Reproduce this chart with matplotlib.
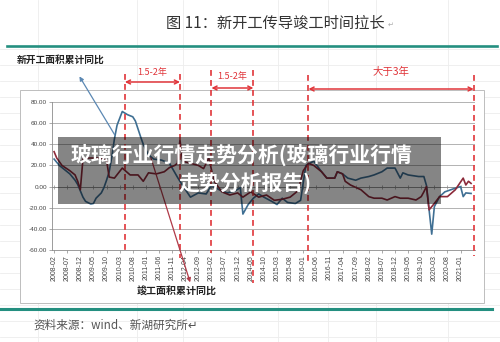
import matplotlib.pyplot as plt
from matplotlib.patches import Rectangle
from matplotlib.lines import Line2D
from matplotlib.transforms import blended_transform_factory

plt.rcParams['font.family'] = ['Noto Sans CJK SC', 'DejaVu Sans']

# 新开工面积累计同比 (%)
new_start_dates = ["2008-02", "2008-04", "2008-06", "2008-08", "2008-10", "2008-11", "2008-12",
                   "2009-01", "2009-02", "2009-04", "2009-05", "2009-06", "2009-08", "2009-09", "2009-10", "2009-11", "2009-12",
                   "2010-01", "2010-02", "2010-04", "2010-06", "2010-08", "2010-09", "2010-11", "2010-12",
                   "2011-02", "2011-04", "2011-07", "2011-10",
                   "2012-01", "2012-03", "2012-06", "2012-09", "2012-12",
                   "2013-02", "2013-05", "2013-08", "2013-11",
                   "2014-01", "2014-02", "2014-04", "2014-06", "2014-08", "2014-10",
                   "2015-01", "2015-03", "2015-05", "2015-07", "2015-10", "2015-12",
                   "2016-02", "2016-05", "2016-08", "2016-10",
                   "2017-01", "2017-02", "2017-04", "2017-06", "2017-09", "2017-11",
                   "2018-02", "2018-04", "2018-07", "2018-09", "2018-12",
                   "2019-02", "2019-03", "2019-05", "2019-09", "2019-11", "2019-12",
                   "2020-02", "2020-03", "2020-05", "2020-07", "2020-11",
                   "2021-01", "2021-02", "2021-03", "2021-05"]
new_start_yoy = [26, 20, 16, 12, 6, 2, -4,
                 -10, -14, -16.5, -16, -11, -6, -1, 6, 14, 28,
                 45, 58, 71, 68, 66, 62, 47, 40,
                 30, 26, 25, 22,
                 9, 1, -10, -6, -7,
                 1, -3, -6, -4,
                 -1, -26, -17, -11, -7, -10,
                 -14, -17, -11, -15, -16, -13,
                 20, 24, 14, 8,
                 8, 14, 12, 8, 6, 8,
                 9.5, 11, 14, 17.5, 17.5,
                 8, 13, 11, 9.5, 9.5, 1,
                 -45, -19, -9.5, -5, -1.5,
                 0, -9.5, -6, -6.5]

# 竣工面积累计同比 (%)
completion_dates = ["2008-02", "2008-03", "2008-05", "2008-08", "2008-10", "2008-11", "2008-12",
                    "2009-01", "2009-03", "2009-07", "2009-10", "2009-11",
                    "2010-01", "2010-04", "2010-07", "2010-10", "2010-12",
                    "2011-02", "2011-05", "2011-08", "2011-10", "2011-12",
                    "2012-01", "2012-02", "2012-03", "2012-06", "2012-09", "2012-11",
                    "2013-01", "2013-03", "2013-06", "2013-09", "2013-12",
                    "2014-02", "2014-05", "2014-08", "2014-11",
                    "2015-02", "2015-05", "2015-08", "2015-11",
                    "2016-01", "2016-03", "2016-05", "2016-08", "2016-10",
                    "2017-01", "2017-02", "2017-04", "2017-05", "2017-07", "2017-11",
                    "2018-02", "2018-04", "2018-07", "2018-09", "2018-12",
                    "2019-02", "2019-05", "2019-08", "2019-10", "2019-11", "2019-12",
                    "2020-01", "2020-03", "2020-05", "2020-08", "2020-11",
                    "2021-02", "2021-03", "2021-04", "2021-05"]
completion_yoy = [33, 27, 20, 15, 11, 5, -3,
                  26, 27, 27, 25, 9,
                  8, 17.5, 11, 11, 5,
                  13, 12, 14, 18, 20,
                  22, 44, 24, 22, 20, 17,
                  27, 5, -5, -8, -6,
                  -10, -5, -10, -8,
                  -13, -12, -10, -4,
                  15, 22, 20, 14, 8,
                  8, 14, 12, 5, 1.5, -3,
                  -9.5, -11, -11, -12.7, -9.5,
                  -11, -11, -12.7, -9.5, -5, 0,
                  -22, -16, -9.5, -9.5, -3,
                  8, 1.5, 5, 3]

tick_labels = ["2008-02", "2008-07", "2008-12", "2009-05", "2009-10", "2010-03", "2010-08", "2011-01",
               "2011-06", "2011-11", "2012-04", "2012-09", "2013-02", "2013-07", "2013-12", "2014-05",
               "2014-10", "2015-03", "2015-08", "2016-01", "2016-06", "2016-11", "2017-04", "2017-09",
               "2018-02", "2018-07", "2018-12", "2019-05", "2019-10", "2020-03", "2020-08", "2021-01"]

# period markers (dashed lines) and spans
marker_dates = ["2010-05", "2012-02", "2013-02", "2014-06", "2016-03", "2021-06"]
span_labels = ["1.5-2年", "1.5-2年", "大于3年"]


def month_index(s):
    y, m = s.split('-')
    return (int(y) - 2008) * 12 + int(m) - 2


W, H = 500, 342


def fx(x):
    return x / W


def fy(y):
    return 1 - y / H


RED = '#e0353a'
BLUE = '#3f6f93'
MAROON = '#8c2a3a'
TEAL = '#248f80'

fig = plt.figure(figsize=(5, 3.42), dpi=100)

# faint page grid behind everything
for y in range(49, 342, 16):
    fig.add_artist(Line2D([0, 1], [fy(y), fy(y)], color='#ededed', lw=0.6, zorder=-3))
for x in [38, 137, 183, 278, 328, 376, 448]:
    fig.add_artist(Line2D([fx(x), fx(x)], [0, 1], color='#ededed', lw=0.6, zorder=-3))

# inner white chart box
fig.add_artist(Rectangle((fx(20), fy(303)), fx(484) - fx(20), fy(90) - fy(303),
                         facecolor='white', edgecolor='#bdbdbd', lw=0.7, zorder=-1))

# teal rules
fig.add_artist(Line2D([fx(7), fx(497)], [fy(46), fy(46)], color=TEAL, lw=1.9))
fig.add_artist(Line2D([fx(0), fx(492)], [fy(309), fy(309)], color=TEAL, lw=2.2))

fig.text(fx(275), fy(23), "图 11：新开工传导竣工时间拉长", fontsize=11, color='#333333',
         ha='center', va='center')
fig.text(fx(388), fy(25), "↵", fontsize=5, color='#aaaaaa', ha='left', va='center')
fig.text(fx(17), fy(60), "新开工面积累计同比", fontsize=7, fontweight='bold', color='#222222',
         ha='left', va='center')
fig.text(fx(137), fy(292), "竣工面积累计同比", fontsize=7.2, fontweight='bold', color='#222222',
         ha='left', va='center')
fig.text(fx(33), fy(325), "资料来源：wind、新湖研究所↵", fontsize=8.4, color='#555555',
         ha='left', va='center')

ax = fig.add_axes([fx(52), fy(250), fx(475) - fx(52), fy(102) - fy(250)])
ax.set_facecolor('none')
ax.set_xlim(-0.8, 160.5)
ax.set_ylim(-60, 80)
ax.set_yticks(range(-60, 81, 20))
ax.set_yticklabels(['%.2f' % v for v in range(-60, 81, 20)], fontsize=4.6, color='#444444',
                   family=['Liberation Sans'])
ax.grid(axis='y', color='#a6a6a6', lw=0.6)
ax.set_axisbelow(True)

tick_pos = [month_index(s) for s in tick_labels]
ax.set_xticks(tick_pos)
ax.set_xticklabels(tick_labels, rotation=90, fontsize=5.0, color='#444444', family=['Liberation Sans'])
ax.tick_params(axis='both', length=2, width=0.5, color='#888888', pad=1.5)
for side in ['top', 'right']:
    ax.spines[side].set_visible(False)
ax.spines['left'].set_color('#8c8c8c')
ax.spines['left'].set_linewidth(0.6)
ax.spines['bottom'].set_color('#8c8c8c')
ax.spines['bottom'].set_linewidth(0.6)

# zero axis with small ticks
ax.axhline(0, color='#8c8c8c', lw=0.6)
ax.plot(tick_pos, [0] * len(tick_pos), ls='none', marker='|', ms=2.5, mew=0.5, color='#8c8c8c')

ax.plot([month_index(s) for s in new_start_dates], new_start_yoy, color=BLUE, lw=1.2)
ax.plot([month_index(s) for s in completion_dates], completion_yoy, color=MAROON, lw=1.2)

trans = blended_transform_factory(ax.transData, fig.transFigure)
marker_pos = [month_index(s) for s in marker_dates]
line_tops = [74, 74, 70, 70, 75, 75]
line_bottoms = [253, 258, 253, 283, 263, 256]
for m, t, b in zip(marker_pos, line_tops, line_bottoms):
    ax.plot([m, m], [fy(t), fy(b)], transform=trans, clip_on=False, color=RED,
            lw=1.2, ls=(0, (3.5, 2.5)), zorder=3)

span_pairs = [(0, 1), (2, 3), (4, 5)]
arrow_y = [82, 88, 89]
text_y = [72, 76, 72]
text_size = [6.5, 6.5, 7.5]
for (a, b), ay, ty, lab, fs in zip(span_pairs, arrow_y, text_y, span_labels, text_size):
    ax.annotate('', xy=(marker_pos[b], fy(ay)), xytext=(marker_pos[a], fy(ay)),
                xycoords=trans, textcoords=trans,
                arrowprops=dict(arrowstyle='<->', color=RED, lw=1.1, shrinkA=0, shrinkB=0,
                                mutation_scale=7))
    ax.text((marker_pos[a] + marker_pos[b]) / 2, fy(ty), lab, transform=trans, color=RED,
            fontsize=fs, ha='center', va='center', clip_on=False)

# pointer lines from the labels to the series
fig.add_artist(plt.matplotlib.patches.FancyArrowPatch(
    (fx(116), fy(137)), (fx(78), fy(74)), transform=fig.transFigure,
    arrowstyle='-|>', mutation_scale=6, color='#5b88b3', lw=0.9))
fig.add_artist(plt.matplotlib.patches.FancyArrowPatch(
    (fx(150), fy(155)), (fx(191), fy(285)), transform=fig.transFigure,
    arrowstyle='-|>', mutation_scale=6, color='#b03a48', lw=0.9))

# semi-transparent caption overlay
fig.add_artist(Rectangle((fx(58), fy(204)), fx(441) - fx(58), fy(137) - fy(204),
                         facecolor='black', alpha=0.48, lw=0, zorder=5))
fig.text(fx(241), fy(155), "玻璃行业行情走势分析(玻璃行业行情", fontsize=15, fontweight='bold',
         color='white', ha='center', va='center', zorder=6)
fig.text(fx(245), fy(183), "走势分析报告)", fontsize=15, fontweight='bold',
         color='white', ha='center', va='center', zorder=6)

fig.savefig('out.png', dpi=100)
